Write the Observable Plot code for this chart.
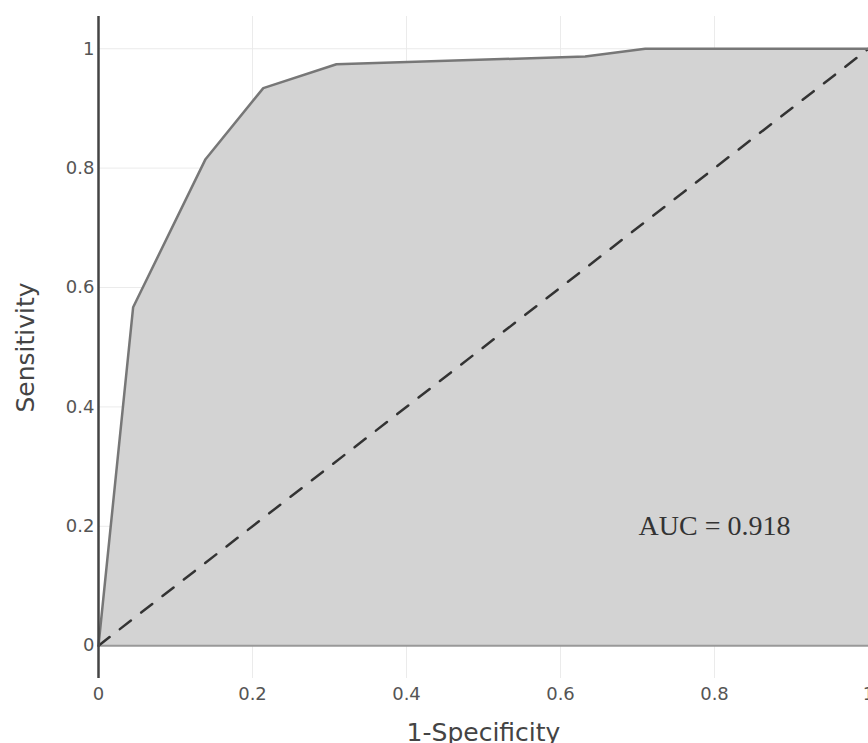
<!DOCTYPE html>
<html>
<head>
<meta charset="utf-8">
<script src="https://cdn.jsdelivr.net/npm/d3@7"></script>
<script src="https://cdn.jsdelivr.net/npm/@observablehq/plot@0.6"></script>
<style>
  html, body { margin: 0; padding: 0; background: #fff; overflow: hidden; }
  #chart svg { display: block; }
</style>
</head>
<body>
<div id="chart"></div>
<script>
// ROC curve points
const fpr = [0, 0.045, 0.139, 0.214, 0.309, 0.632, 0.710, 1];
const tpr = [0, 0.567, 0.815, 0.934, 0.974, 0.987, 1, 1];
// Reference diagonal
const diagX = [0, 1];
const diagY = [0, 1];
// Ticks
const xTicks = [0, 0.2, 0.4, 0.6, 0.8, 1];
const yTicks = [0, 0.2, 0.4, 0.6, 0.8, 1];
// Annotation
const aucLabel = ["AUC = 0.918"];
const aucX = [0.8];
const aucY = [0.2];

const roc = fpr.map((x, i) => ({x, y: tpr[i]}));
const diag = diagX.map((x, i) => ({x, y: diagY[i]}));
const ann = aucLabel.map((t, i) => ({t, x: aucX[i], y: aucY[i]}));

const chart = Plot.plot({
  width: 868,
  height: 743,
  marginLeft: 98,
  marginRight: 0,
  marginTop: 16,
  marginBottom: 65,
  style: {fontFamily: "DejaVu Sans", background: "#fff"},
  x: {domain: [0, 1]},
  y: {domain: [-0.055, 1.054]},
  marks: [
    Plot.gridX(xTicks.filter(d => d > 0), {stroke: "#ebebeb", strokeOpacity: 1, strokeWidth: 1}),
    Plot.gridY(yTicks.filter(d => d > 0), {stroke: "#ebebeb", strokeOpacity: 1, strokeWidth: 1}),
    Plot.areaY(roc, {x: "x", y: "y", fill: "#d3d3d3", fillOpacity: 1}),
    Plot.ruleY([0], {stroke: "#999", strokeWidth: 2}),
    Plot.line(diag, {x: "x", y: "y", stroke: "#333", strokeWidth: 2.5, strokeDasharray: "14,13"}),
    Plot.line(roc, {x: "x", y: "y", stroke: "#777", strokeWidth: 2.5}),
    Plot.ruleX([0], {stroke: "#444", strokeWidth: 2.5}),
    Plot.text(ann, {x: "x", y: "y", text: "t", fontFamily: "Liberation Serif", fontSize: 28, fill: "#333"}),
    Plot.axisX(xTicks, {tickSize: 0, tickPadding: 9, fontSize: 18, fill: "#555", label: null, tickFormat: d => String(d)}),
    Plot.axisX({ticks: [], tickSize: 0, label: "1-Specificity", labelAnchor: "center", labelArrow: "none", labelOffset: 62, fontSize: 25, fill: "#444"}),
    Plot.axisY(yTicks, {tickSize: 0, tickPadding: 4, fontSize: 18, fill: "#555", label: null, tickFormat: d => String(d)}),
    Plot.axisY({ticks: [], tickSize: 0, label: "Sensitivity", labelAnchor: "center", labelArrow: "none", labelOffset: 82, fontSize: 25, fill: "#444"})
  ]
});
document.getElementById("chart").appendChild(chart);
</script>
</body>
</html>
